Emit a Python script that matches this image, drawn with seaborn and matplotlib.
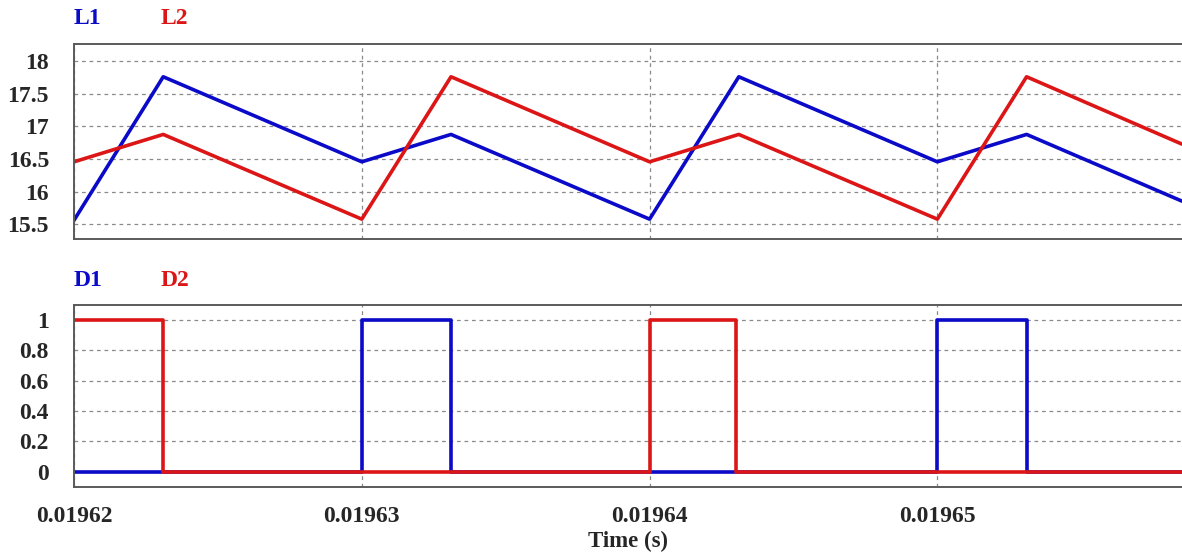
import matplotlib
matplotlib.use("Agg")
import matplotlib.pyplot as plt
import seaborn as sns
import pandas as pd

# ---- data ----
t_L = [0.01962, 0.0196231, 0.01963, 0.0196331, 0.01964, 0.0196431, 0.01965, 0.0196531, 0.0196585]
L1 = [15.56, 17.76, 16.456, 16.876, 15.577, 17.76, 16.456, 16.876, 15.853]
L2 = [16.456, 16.876, 15.577, 17.76, 16.456, 16.876, 15.577, 17.76, 16.727]

t_D1 = [0.01962, 0.01963, 0.0196331, 0.01965, 0.0196531, 0.0196585]
D1 = [0, 1, 0, 1, 0, 0]
t_D2 = [0.01962, 0.0196231, 0.01964, 0.0196430, 0.01964302, 0.0196585]
D2 = [1, 0, 1, 0.5, 0, 0]

x_ticks = [0.01962, 0.01963, 0.01964, 0.01965]
x_tick_labels = ["0.01962", "0.01963", "0.01964", "0.01965"]
top_yticks = [15.5, 16, 16.5, 17, 17.5, 18]
top_yticklabels = ["15.5", "16", "16.5", "17", "17.5", "18"]
bot_yticks = [0, 0.2, 0.4, 0.6, 0.8, 1]
bot_yticklabels = ["0", "0.2", "0.4", "0.6", "0.8", "1"]

BLUE = "#0a0ac8"
RED = "#dc1616"

sns.set_style("white")
plt.rcParams["font.family"] = ["Liberation Serif", "DejaVu Serif"]

W, H = 1182, 554
fig = plt.figure(figsize=(W / 100, H / 100), dpi=100)

def rect(l, t, r, b):
    return [l / W, 1 - b / H, (r - l) / W, (b - t) / H]

ax1 = fig.add_axes(rect(74, 43.5, 1182, 239.5))
ax2 = fig.add_axes(rect(74, 304.5, 1182, 486.5))

dfL = pd.DataFrame({"t": t_L + t_L, "v": L1 + L2, "s": ["L1"] * len(t_L) + ["L2"] * len(t_L)})
sns.lineplot(data=dfL, x="t", y="v", hue="s", palette={"L1": BLUE, "L2": RED},
             estimator=None, sort=False, linewidth=2.6, legend=False, ax=ax1)

dfD1 = pd.DataFrame({"t": t_D1, "v": D1})
dfD2 = pd.DataFrame({"t": t_D2, "v": D2})
sns.lineplot(data=dfD1, x="t", y="v", color=BLUE, estimator=None, sort=False,
             drawstyle="steps-post", linewidth=2.6, ax=ax2)
sns.lineplot(data=dfD2, x="t", y="v", color=RED, estimator=None, sort=False,
             drawstyle="steps-post", linewidth=2.6, ax=ax2)

xmin, xmax = 0.01962, 0.0196585
for ax, yt, ytl, ylim in [(ax1, top_yticks, top_yticklabels, (15.265, 18.27)),
                          (ax2, bot_yticks, bot_yticklabels, (-0.099, 1.103))]:
    ax.set_xlim(xmin, xmax)
    ax.set_ylim(*ylim)
    ax.set_xticks(x_ticks)
    ax.set_yticks(yt)
    ax.set_yticklabels(ytl, fontsize=17, fontweight="bold")
    ax.tick_params(axis="both", length=0)
    ax.tick_params(axis="y", pad=18)
    ax.grid(True, linestyle=(0, (3, 3)), color="#8a8a8a", linewidth=0.9)
    ax.set_axisbelow(True)
    ax.set_xlabel("")
    ax.set_ylabel("")
    for side in ["top", "bottom", "left"]:
        ax.spines[side].set_visible(True)
        ax.spines[side].set_color("#5a5a5a")
        ax.spines[side].set_linewidth(1.4)
    ax.spines["right"].set_visible(False)

ax1.set_xticklabels([])
ax2.set_xticklabels(x_tick_labels, fontsize=17, fontweight="bold")
ax2.tick_params(axis="x", pad=14)
ax2.set_xlabel("Time (s)", fontsize=16.5, fontweight="bold", labelpad=3)

fig.text(74 / W, 1 - 18 / H, "L1", color=BLUE, fontsize=17, fontweight="bold", va="center", ha="left")
fig.text(161 / W, 1 - 18 / H, "L2", color=RED, fontsize=17, fontweight="bold", va="center", ha="left")
fig.text(74 / W, 1 - 280 / H, "D1", color=BLUE, fontsize=17, fontweight="bold", va="center", ha="left")
fig.text(161 / W, 1 - 280 / H, "D2", color=RED, fontsize=17, fontweight="bold", va="center", ha="left")

fig.savefig("out.png", dpi=100)
